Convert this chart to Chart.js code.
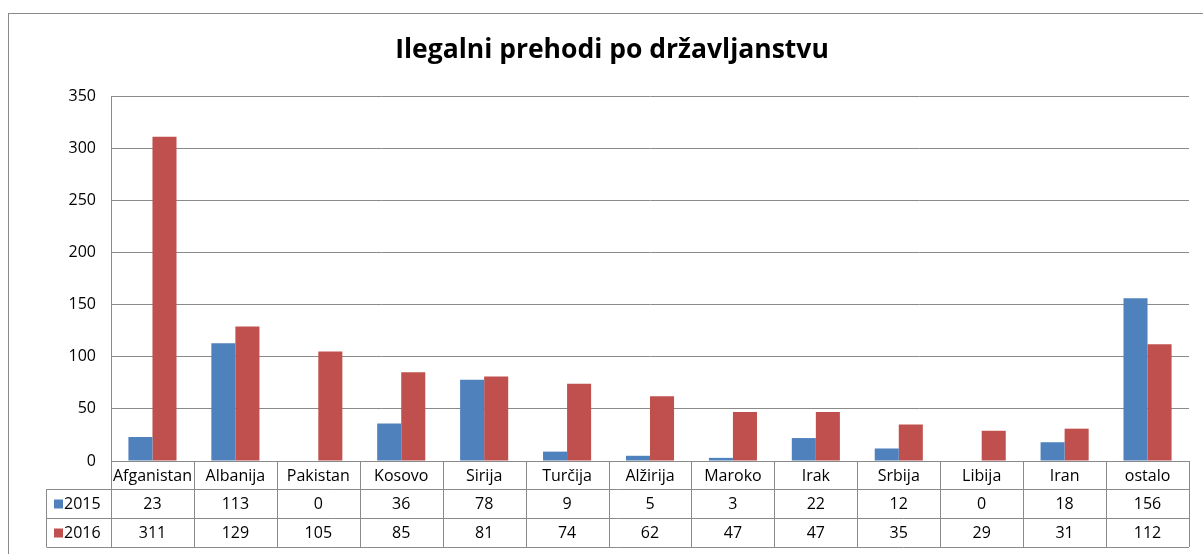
<!DOCTYPE html>
<html>
<head>
<meta charset="utf-8">
<script src="https://cdn.jsdelivr.net/npm/chart.js@4"></script>
<style>
  body { margin: 0; background: #fff; }
  #wrap { width: 1203px; height: 554px; position: relative; }
</style>
</head>
<body>
<div id="wrap"><canvas id="graf"></canvas></div>
<script>
const naslov = 'Ilegalni prehodi po državljanstvu';
const drzave = ['Afganistan', 'Albanija', 'Pakistan', 'Kosovo', 'Sirija', 'Turčija', 'Alžirija', 'Maroko', 'Irak', 'Srbija', 'Libija', 'Iran', 'ostalo'];
const leto2015 = [23, 113, 0, 36, 78, 9, 5, 3, 22, 12, 0, 18, 156];
const leto2016 = [311, 129, 105, 85, 81, 74, 62, 47, 47, 35, 29, 31, 112];
const oznakeY = [0, 50, 100, 150, 200, 250, 300, 350];

const pisava = "'Open Sans', 'Noto Sans', sans-serif";
const sivaCrta = '#8a8a8a';

// okvir okoli celega grafa in naslov (sredinsko glede na okvir)
const okvir = {
    id: 'okvir',
    beforeDraw(chart) {
        const ctx = chart.ctx;
        ctx.save();
        ctx.strokeStyle = sivaCrta;
        ctx.lineWidth = 1;
        ctx.strokeRect(8.5, 13.5, chart.width + 20, chart.height + 20);
        ctx.fillStyle = '#000';
        ctx.font = 'bold 26.5px ' + pisava;
        ctx.textAlign = 'center';
        ctx.textBaseline = 'middle';
        ctx.fillText(naslov, 612, 50);
        ctx.restore();
    }
};

// tabela s podatki pod osjo x (kot v Excelu)
const tabela = {
    id: 'tabela',
    afterDraw(chart) {
        const ctx = chart.ctx;
        const area = chart.chartArea;
        const x = chart.scales.x;
        const w = (area.right - area.left) / drzave.length;
        const vrstice = [area.bottom, area.bottom + 28, area.bottom + 57, area.bottom + 86];
        const levo = 46;

        ctx.save();
        ctx.strokeStyle = sivaCrta;
        ctx.lineWidth = 1;
        ctx.beginPath();
        // vodoravne crte
        ctx.moveTo(area.left, Math.round(vrstice[0]) + 0.5);
        ctx.lineTo(area.right, Math.round(vrstice[0]) + 0.5);
        for (let i = 1; i < vrstice.length; i++) {
            ctx.moveTo(levo + 0.5, Math.round(vrstice[i]) + 0.5);
            ctx.lineTo(area.right, Math.round(vrstice[i]) + 0.5);
        }
        // navpicne crte
        ctx.moveTo(levo + 0.5, vrstice[1]);
        ctx.lineTo(levo + 0.5, vrstice[3]);
        for (let i = 0; i <= drzave.length; i++) {
            const xx = Math.round(area.left + i * w) + 0.5;
            ctx.moveTo(xx, vrstice[0]);
            ctx.lineTo(xx, vrstice[3]);
        }
        ctx.stroke();

        ctx.fillStyle = '#000';
        ctx.font = '16px ' + pisava;
        ctx.textAlign = 'center';
        ctx.textBaseline = 'middle';
        drzave.forEach((d, i) => {
            const cx = x.getPixelForValue(i);
            ctx.fillText(d, cx, (vrstice[0] + vrstice[1]) / 2 + 1);
            ctx.fillText(String(leto2015[i]), cx, (vrstice[1] + vrstice[2]) / 2 + 1);
            ctx.fillText(String(leto2016[i]), cx, (vrstice[2] + vrstice[3]) / 2 + 1);
        });

        // legenda v levem stolpcu
        const serije = chart.data.datasets;
        ctx.textAlign = 'left';
        serije.forEach((s, k) => {
            const sredina = (vrstice[k + 1] + vrstice[k + 2]) / 2;
            ctx.fillStyle = s.backgroundColor;
            ctx.fillRect(54, sredina - 4, 9, 9);
            ctx.fillStyle = '#000';
            ctx.fillText(s.label, 64, sredina + 1);
        });
        ctx.restore();
    }
};

new Chart(document.getElementById('graf'), {
    type: 'bar',
    data: {
        labels: drzave,
        datasets: [{
            label: '2015',
            data: leto2015,
            backgroundColor: '#4F81BD',
            borderWidth: 0
        }, {
            label: '2016',
            data: leto2016,
            backgroundColor: '#C0504D',
            borderWidth: 0
        }]
    },
    options: {
        responsive: true,
        maintainAspectRatio: false,
        animation: false,
        layout: { padding: { left: 0, right: 14, top: 96, bottom: 0 } },
        plugins: {
            legend: { display: false },
            tooltip: { enabled: false },
            title: { display: false }
        },
        datasets: {
            bar: { categoryPercentage: 0.58, barPercentage: 1 }
        },
        scales: {
            x: {
                grid: { display: false, drawTicks: false },
                border: { display: false },
                ticks: { display: false },
                afterFit(s) { s.height = 93; }
            },
            y: {
                min: 0,
                max: 350,
                afterBuildTicks(s) { s.ticks = oznakeY.map(v => ({ value: v })); },
                grid: { color: sivaCrta, drawTicks: false },
                border: { color: sivaCrta },
                ticks: { color: '#000', font: { family: pisava, size: 16 }, padding: 15 },
                afterFit(s) { s.width = 111; }
            }
        }
    },
    plugins: [okvir, tabela]
});
</script>
</body>
</html>
